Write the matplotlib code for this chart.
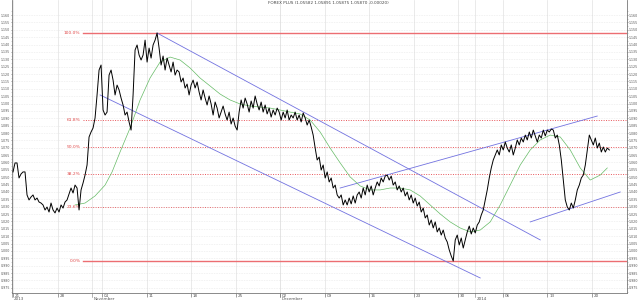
import matplotlib
matplotlib.use("Agg")
import matplotlib.pyplot as plt
import matplotlib.transforms as mtransforms
import numpy as np
from matplotlib.ticker import FixedLocator, FormatStrFormatter, NullFormatter

# closing prices, one every ~0.31 day
close = [
    1.0536, 1.0597, 1.0597, 1.0495, 1.0522, 1.0536, 1.0536, 1.0380, 1.0346, 1.0366,
    1.0380, 1.0346, 1.0359, 1.0332, 1.0325, 1.0312, 1.0278, 1.0298, 1.0264, 1.0325,
    1.0278, 1.0258, 1.0291, 1.0264, 1.0312, 1.0291, 1.0332, 1.0346, 1.0386, 1.0427,
    1.0393, 1.0447, 1.0427, 1.0278, 1.0414, 1.0461, 1.0515, 1.0583, 1.0773, 1.0807,
    1.0834, 1.0902, 1.1058, 1.1227, 1.1261, 1.0956, 1.0922, 1.0942, 1.1193, 1.1227,
    1.1159, 1.1058, 1.1125, 1.1092, 1.1037, 1.0990, 1.0922, 1.0942, 1.0875, 1.0820,
    1.1058, 1.1363, 1.1397, 1.1329, 1.1295, 1.1329, 1.1430, 1.1281, 1.1376, 1.1308,
    1.1397, 1.1430, 1.1478, 1.1376, 1.1261, 1.1322, 1.1227, 1.1308, 1.1261, 1.1214,
    1.1281, 1.1193, 1.1227, 1.1214, 1.1146, 1.1173, 1.1105, 1.1132, 1.1058, 1.1125,
    1.1159, 1.1105, 1.1146, 1.1078, 1.1024, 1.1092, 1.1037, 1.0990, 1.1051, 1.0997,
    1.0922, 1.1010, 1.0969, 1.0902, 1.0942, 1.0983, 1.0929, 1.0888, 1.0942, 1.0861,
    1.0902, 1.0847, 1.0820, 1.0942, 1.1024, 1.0969, 1.1037, 1.0997, 1.0942, 1.1017,
    1.0969, 1.1051, 1.0997, 1.0956, 1.1010, 1.0942, 1.0990, 1.0929, 1.0969, 1.0908,
    1.0956, 1.0922, 1.0969, 1.0942, 1.0888, 1.0942, 1.0902, 1.0956, 1.0888, 1.0922,
    1.0902, 1.0942, 1.0888, 1.0922, 1.0875, 1.0936, 1.0902, 1.0854, 1.0888, 1.0841,
    1.0786, 1.0698, 1.0617, 1.0637, 1.0549, 1.0583, 1.0495, 1.0536, 1.0468, 1.0495,
    1.0427, 1.0447, 1.0380, 1.0359, 1.0380, 1.0312, 1.0346, 1.0312, 1.0359, 1.0319,
    1.0373, 1.0325, 1.0380, 1.0400, 1.0359, 1.0427, 1.0380, 1.0447, 1.0400, 1.0441,
    1.0380, 1.0427, 1.0468, 1.0441, 1.0495, 1.0468, 1.0508, 1.0515, 1.0481, 1.0508,
    1.0447, 1.0468, 1.0414, 1.0441, 1.0400, 1.0427, 1.0373, 1.0400, 1.0346, 1.0380,
    1.0325, 1.0359, 1.0305, 1.0332, 1.0264, 1.0291, 1.0224, 1.0244, 1.0176, 1.0210,
    1.0156, 1.0197, 1.0129, 1.0156, 1.0108, 1.0142, 1.0088, 1.0061, 1.0007, 0.9966,
    0.9932, 1.0075, 1.0108, 1.0041, 1.0088, 1.0020, 1.0075, 1.0129, 1.0169, 1.0115,
    1.0156, 1.0122, 1.0176, 1.0197, 1.0244, 1.0278, 1.0346, 1.0414, 1.0495, 1.0563,
    1.0617, 1.0651, 1.0685, 1.0651, 1.0719, 1.0685, 1.0739, 1.0698, 1.0671, 1.0719,
    1.0651, 1.0698, 1.0753, 1.0719, 1.0766, 1.0739, 1.0786, 1.0753, 1.0807, 1.0766,
    1.0820, 1.0780, 1.0739, 1.0786, 1.0766, 1.0820, 1.0780, 1.0820, 1.0807, 1.0827,
    1.0820, 1.0766, 1.0786, 1.0719, 1.0617, 1.0481, 1.0346, 1.0298, 1.0278, 1.0325,
    1.0291, 1.0346, 1.0414, 1.0447, 1.0495, 1.0515, 1.0583, 1.0685, 1.0786, 1.0753,
    1.0719, 1.0766, 1.0698, 1.0732, 1.0671, 1.0705, 1.0671, 1.0698, 1.0685,
]
step = 0.3145  # days between samples

# moving average (green), read at a few points
ma_t = [9.75, 11.32, 12.89, 14.47, 15.57, 16.82, 18.40, 19.97, 21.54, 23.11,
        24.69, 26.26, 27.83, 29.40, 30.97, 32.55, 34.12, 35.69, 37.26, 38.84,
        40.41, 41.98, 43.55, 45.13, 46.70, 48.27, 49.84, 51.42, 52.99, 54.56,
        56.13, 57.70, 59.28, 60.85, 62.42, 63.99, 65.57, 67.14, 68.71, 70.28,
        71.86, 73.43, 75.00, 76.57, 78.14, 79.72, 81.29, 82.86, 84.43, 86.01,
        87.58, 89.15, 90.72, 92.30, 93.40]
ma_v = [1.0312, 1.0325, 1.0373, 1.0447, 1.0536, 1.0671, 1.0834, 1.1024, 1.1173, 1.1281,
        1.1315, 1.1295, 1.1241, 1.1173, 1.1119, 1.1064, 1.1024, 1.0997, 1.0983, 1.0976,
        1.0969, 1.0956, 1.0942, 1.0929, 1.0888, 1.0807, 1.0698, 1.0597, 1.0502, 1.0441,
        1.0414, 1.0414, 1.0427, 1.0427, 1.0414, 1.0373, 1.0312, 1.0251, 1.0197, 1.0156,
        1.0129, 1.0142, 1.0197, 1.0312, 1.0447, 1.0583, 1.0685, 1.0753, 1.0786, 1.0773,
        1.0685, 1.0563, 1.0481, 1.0515, 1.0563]

# trend lines: (t0, p0, t1, p1)
trend_lines = [
    (22.64, 1.1478, 82.86, 1.0075),
    (13.68, 1.1058, 73.43, 0.9817),
    (51.42, 1.0427, 91.82, 1.0915),
    (81.29, 1.0197, 95.44, 1.0400),
]

fib_high = 1.1478
fib_low = 0.9932
fib_ratios = [1.0, 0.618, 0.5, 0.382, 0.236, 0.0]
fib_labels = ["100.0%", "61.8%", "50.0%", "38.2%", "23.6%", "0.0%"]
fib_start = 11.0

week_ticks = [0, 7, 14, 21, 28, 35, 42, 49, 56, 63, 70, 77, 84, 91]
week_labels = ["21", "28", "04", "11", "18", "25", "02", "09", "16", "23", "30", "06", "13", "20"]
month_ticks = [-0.1, 12.4, 42.0, 72.6]
month_labels = ["2013", "November", "December", "2014"]

title = "FOREX PLUS (1.05582 1.05891 1.05875 1.05870 -0.00020)"

t = np.arange(len(close)) * step

fig = plt.figure(figsize=(6.4, 3.02), dpi=100)
ax = fig.add_axes([12 / 640, 9 / 302, 615 / 640, 293 / 302])

ax.set_xlim(-0.16, 96.5)
ax.set_ylim(0.9715, 1.1702)

# grid
for w in week_ticks:
    ax.axvline(w, color="#e2e2e2", lw=0.5, zorder=0)
for m in month_ticks[1:]:
    ax.axvline(m, color="#e2e2e2", lw=0.5, zorder=0)
ax.yaxis.set_major_locator(FixedLocator(np.round(np.arange(0.975, 1.1601, 0.005), 3)))
ax.yaxis.set_minor_locator(FixedLocator(np.round(np.arange(0.9725, 1.1626, 0.005), 4)))
ax.yaxis.set_major_formatter(FormatStrFormatter("%.3f"))
ax.yaxis.set_minor_formatter(NullFormatter())
ax.grid(axis="y", which="major", color="#d8d8d8", lw=0.4, ls=(0, (1, 2)), zorder=0)

# fibonacci levels
for r, lab in zip(fib_ratios, fib_labels):
    lvl = fib_low + r * (fib_high - fib_low)
    if r in (0.0, 1.0):
        ax.plot([fib_start, 96.5], [lvl, lvl], color="#ec6e72", lw=1.0,
                snap=True, zorder=1)
    else:
        ax.plot([fib_start, 96.5], [lvl, lvl], color="#e8555a", lw=0.7,
                ls=(0, (1, 1.5)), zorder=1)
    ax.text(fib_start - 0.4, lvl, lab, color="#e04848", fontsize=3.2,
            ha="right", va="center")

for t0, p0, t1, p1 in trend_lines:
    ax.plot([t0, t1], [p0, p1], color="#7272e0", lw=0.6, zorder=2)

ax.plot(ma_t, ma_v, color="#66bb66", lw=0.5, zorder=3)
ax.plot(t, close, color="black", lw=0.7, zorder=4)

# axes / ticks
ax.tick_params(axis="y", which="both", left=True, right=True, labelleft=True,
               labelright=True, labelsize=2.3, colors="#555555", pad=0.3)
ax.tick_params(axis="y", which="major", length=1.0, width=0.4)
ax.tick_params(axis="y", which="minor", length=0.6, width=0.3)
ax.set_xticks(week_ticks)
ax.set_xticklabels(week_labels)
ax.tick_params(axis="x", labelsize=3.0, colors="#555555", length=3, width=0.4,
               pad=-2.2, direction="out")
shift = mtransforms.ScaledTranslation(1.2 / 72, 0, fig.dpi_scale_trans)
for lbl in ax.get_xticklabels():
    lbl.set_ha("left")
    lbl.set_transform(lbl.get_transform() + shift)
for m, lab in zip(month_ticks, month_labels):
    ax.plot([m, m], [0, -0.012], transform=ax.get_xaxis_transform(),
            color="#777777", lw=0.4, clip_on=False)
    ax.text(m, -0.013, lab, transform=ax.get_xaxis_transform() + shift,
            fontsize=3.0, color="#555555", ha="left", va="top", clip_on=False)

for s in ["left", "right", "bottom"]:
    ax.spines[s].set_color("#777777")
    ax.spines[s].set_linewidth(0.6)
ax.spines["top"].set_visible(False)

ax.text(0.515, 0.995, title, transform=ax.transAxes, fontsize=3.0,
        color="#444444", ha="center", va="top")

fig.savefig("out.png", dpi=100)
